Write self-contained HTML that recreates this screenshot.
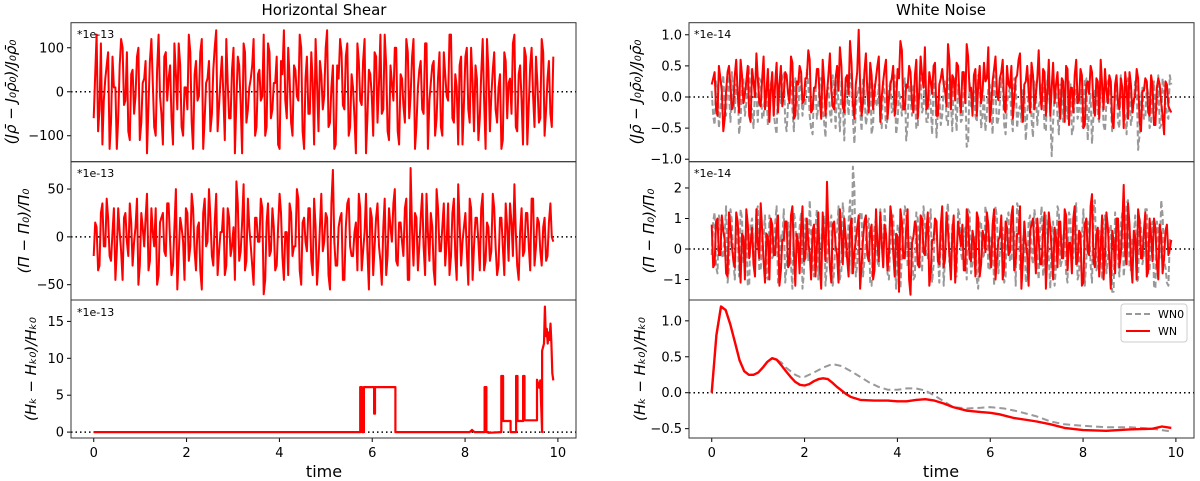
<!DOCTYPE html>
<html><head><meta charset="utf-8"><style>
html,body{margin:0;padding:0;background:#fff;}
svg{display:block;font-family:"DejaVu Sans","Liberation Sans",sans-serif;}
</style></head><body>
<svg id="fig" width="1200" height="481" viewBox="0 0 1200 481"></svg>
<script>
// ---------- data ----------
const tMax = 9.9;
const leftTopVals = [-60,130,-40,-120,30,90,-70,10,-130,60,100,-20,-90,40,-50,80,-110,20,70,-30,
120,-80,50,-10,-120,90,30,-60,110,-40,60,-100,10,130,-70,40,-20,90,-130,20,
70,-50,100,-90,30,-10,120,-60,50,-140,80,-30,110,-70,10,60,-100,40,-20,130,
-80,90,-40,20,-120,70,140,-60,30,-100,50,-20,100,-130,80,-50,20,120,-90,40,
-10,140,-70,60,-120,30,90,-40,110,-80,10,-140,70,-30,120,-60,40,-100,80,20,
-50,130,-90,60,-20,100,-120,30,-70,90,-10,120,-80,50,-40,110,-130,20,70,-60,
90,-100,40,-20,130,-70,10,60,-120,80,-40,100,-90,30,-60,120,-130,50,-10,90,
-70,40,-110,70,20,-50,130,-90,60,-120,80,-30,100,-80,20,-60,90,-40,70,-80];
const leftTopVals2 = [40,-90,110,-20,60,-130,80,10,-60,120,-30,90,-110,50,-10,100,-70,30,-140,70,
20,-100,130,-50,80,-20,60,-120,40,110,-80,10,-40,90,-130,70,-10,120,-60,30,
-90,50,140,-30,80,-110,20,-60,100,-20,60,-140,90,-40,30,120,-80,50,-10,-100,
110,-60,20,80,-130,40,-20,100,-70,60,-10,130,-90,30,-50,90,-120,20,70,-40,
100,-80,10,-130,60,120,-30,80,-100,40,-60,110,-20,70,-140,50,-10,90,-70,130,
-40,60,-110,20,100,-90,40,-30,120,-60,80,-130,10,70,-50,110,-20,60,-100,30,
-80,90,-10,130,-60,40,-120,80,-30,100,-70,20,60,-110,40,-20,120,-90,50,-40,
10,-130,90,-60,30,110,-80,40,-20,100,-120,60,-10,80,-70,120,-100,30,-50,80];
const leftMidVals = [-20,10,-30,35,-10,20,-25,30,-15,5,-45,25,-20,15,-5,40,-30,10,20,-35,
30,-10,-50,15,25,-20,35,-40,10,-55,20,-5,30,-25,45,-15,10,-35,25,-10,
50,-20,15,-40,5,30,-30,20,-10,-45,35,-15,55,-25,10,-30,20,-5,40,-60,
15,-20,30,-35,10,25,-45,5,35,-20,-10,40,-50,20,-15,30,-40,10,-25,45,
-5,20,-55,70,-30,10,25,-45,35,-10,-20,15,45,-35,5,-15,30,-40,20,-10,
-50,40,-20,10,35,-25,15,-5,30,-45,72,-30,20,-10,45,-40,5,25,-35,50,
-15,10,-30,35,-20,40,-45,15,-5,25,-50,30,-10,20,-35,45,-25,10,-15,30,
-40,20,-10,35,-25,15,55,-30,5,-20,25,-10,40,-30,20,-15,10,-25,15,0];
const leftMidVals2 = [15,-35,25,-10,40,-20,5,-45,30,-15,20,-5,35,-30,10,-50,25,-10,45,-25,
5,30,-40,20,-15,35,-5,-30,50,-20,10,-45,25,-10,30,-35,15,-55,40,-5,
20,-30,45,-15,5,-40,30,-20,10,58,-25,15,-35,40,-10,-50,20,-5,30,-45,
35,-15,10,-30,45,-20,5,-40,25,-10,50,-35,15,-5,30,-25,40,-50,10,-15,
25,-40,35,-5,-30,20,-45,10,40,-20,5,-35,30,-15,45,-55,20,-10,35,-25,
10,-40,30,-5,50,-30,15,-20,40,-45,5,25,-35,20,-10,45,-25,10,-50,30,
-15,35,-5,-40,25,-20,55,-30,10,-15,40,-45,20,-5,30,-35,15,-25,45,-10,
-30,20,-40,10,35,-20,5,-45,30,-15,25,-35,40,-10,15,-30,20,-20,35,-5];
const leftBotTimes = [0,5.74,5.74,5.78,5.78,5.82,5.82,6.04,6.04,6.06,6.06,6.5,6.5,8.1,8.15,8.2,8.42,8.42,8.46,8.46,8.5,8.5,8.78,8.78,8.82,8.82,8.98,8.98,9.1,9.1,9.13,9.13,9.25,9.25,9.28,9.28,9.55,9.55,9.6,9.62,9.66,9.66,9.7,9.72,9.74,9.76,9.78,9.8,9.82,9.84,9.86,9.88,9.9];
const leftBotVals =  [0,0,6.1,6.1,0,0,6.1,6.1,2.5,2.5,6.1,6.1,0,0,0.3,0,0,6.1,6.1,0,0,-0.1,0,7.6,7.6,1.5,1.5,0,0,7.6,7.6,1.5,1.5,7.6,7.6,1.6,1.6,7.1,6.0,7.0,0,11,12,17,13,14,12,13.5,12.5,14.7,12,8,7];
const rightTopRed = [.2,.4,-.3,.3,-.55,.1,.5,-.2,.35,.05,.6,-.1,.25,-.3,.45,0,.3,-.15,.65,.1,
-.4,.4,.2,-.25,.5,.05,.35,-.1,.55,-.3,.2,.4,-.05,.3,.6,-.2,.15,.45,-.35,.25,
.05,.7,-.15,.3,.1,.5,-.25,.35,.9,-.1,.2,1.08,-.3,.4,.1,.55,-.2,.3,.65,0,
.45,-.35,.2,.5,-.1,.3,.75,-.2,.15,.4,-.25,.6,.05,.35,.8,-.15,.25,.5,-.3,.2,
.45,.1,.85,-.2,.3,.55,0,.4,-.1,.65,.15,.35,-.3,.5,.1,.25,.8,-.15,.45,.05,
.3,.6,-.25,.2,.5,-.05,.35,.7,-.4,.25,.1,.55,-.2,.3,.05,.45,-.3,.6,.15,-.1,
.4,-.35,.25,.5,-.45,.15,.35,-.1,.45,-.5,.2,.05,.4,-.3,.25,.6,-.2,.1,.35,-.4,
.2,-.1,.3,-.5,.15,.4,-.25,.05,.3,-.55,.1,.25,-.3,.2,-.45,.3,-.1,-.6,.2,-.2];
const rightTopRed2 = [.3,-.2,.5,.1,-.35,.4,.15,-.1,.6,-.25,.35,.05,.5,-.4,.25,.7,-.1,.3,-.2,.45,
.1,-.3,.55,.2,-.15,.4,.05,.65,-.35,.25,.5,-.1,.3,.75,-.25,.15,.45,-.05,.6,-.3,
.35,.1,-.2,.5,.8,-.15,.3,.05,.55,-.35,.4,.2,-.1,.7,-.25,.35,.1,.5,-.4,.25,
.6,-.05,.3,-.3,.45,.9,-.2,.2,.5,-.1,.35,-.35,.65,.15,-.2,.4,.05,.55,-.3,.3,
.2,-.15,.6,.35,-.05,.5,-.25,.4,.85,.1,-.3,.45,.2,-.1,.55,.3,-.4,.25,.65,-.05,
.4,-.2,.5,.15,-.35,.3,.6,-.1,.2,.5,-.25,.35,.05,.75,-.2,.4,.1,-.3,.55,.2,
-.1,.3,-.4,.45,.15,-.25,.6,-.05,.35,-.45,.25,.5,-.15,.3,-.35,.2,.45,-.1,.25,-.5,
.35,-.2,.15,.4,-.35,.2,-.05,.45,-.4,.1,.3,-.25,.35,-.45,.15,.2,-.3,.25,-.15,-.25];
const rightTopGray = [.1,-.45,.2,-.2,.35,-.3,.05,.4,-.25,.15,-.35,.3,-.1,.5,-.2,.1,-.4,.25,-.3,.05,
-.15,.35,-.45,.2,-.1,.4,-.55,.1,-.2,.3,-.35,.15,-.05,.45,-.3,-.6,.2,-.15,.3,-.4,
.1,-.25,.35,-.5,-.1,.25,-.7,.05,.3,-.35,-.2,.15,-.55,.1,-.3,.4,-.45,-.1,.2,-.5,
.05,-.35,.25,-.2,-.6,.1,-.3,.3,-.45,-.05,.2,-.5,.1,-.25,.35,-.4,-.1,.15,-.65,.05,
-.3,.25,-.45,-.1,.3,-.55,0,-.35,.2,-.75,-.15,.1,-.4,.25,-.3,-.55,.15,-.2,.35,-.45,
-.1,.2,-.6,.05,-.3,.3,-.5,-.15,.15,-.7,.1,-.35,.25,-.45,-.05,.2,-.55,.1,-.95,.05,
-.3,.2,-.4,-.1,.25,-.6,0,-.35,.15,-.5,.3,-.2,-.75,.1,-.3,.2,-.45,-.1,.3,-.55,
.05,-.4,.35,-.2,-.6,.15,-.3,.25,-.85,0,-.35,.2,-.5,.1,-.25,.35,-.45,.1,-.3,.35];
const rightTopGray2 = [-.3,.25,-.5,.1,-.2,.35,-.4,-.05,.2,-.6,.15,-.3,.4,-.15,-.5,.05,.3,-.35,.1,-.45,
.2,-.25,-.6,.15,.3,-.4,-.1,.25,-.55,.05,.35,-.3,-.15,.2,-.5,.1,-.35,.3,-.2,-.65,
.15,-.4,.05,.25,-.55,-.1,.2,-.3,.4,-.75,.05,-.2,.3,-.45,.1,-.6,.2,-.15,-.35,.25,
-.5,.1,-.25,.35,-.4,-.1,.15,-.7,.2,-.3,.05,-.5,.3,-.15,-.4,.1,-.6,.25,-.2,-.45,
.15,-.35,.3,-.55,-.05,.2,-.4,.1,-.8,.25,-.15,-.3,.35,-.5,.05,-.25,.2,-.6,.1,-.35,
.3,-.45,-.1,.15,-.55,.25,-.2,-.4,.1,-.3,.35,-.65,.05,-.15,.2,-.5,.3,-.25,-.4,.1,
-.6,.2,-.1,-.35,.25,-.5,.15,-.2,-.45,.3,-.7,.05,-.3,.2,-.4,.1,-.55,.25,-.15,-.35,
.2,-.5,.1,-.3,.3,-.45,-.1,.2,-.6,.15,-.35,.05,-.4,.25,-.2,-.5,.3,-.1,-.35,.2];
const rightMidRed = [.8,-.5,1.0,-.2,.6,-.8,1.2,.1,-.6,.9,-1.1,.4,1.3,-.3,.7,-.9,.2,1.5,-.4,.5,
-1.0,.8,-.2,1.1,-.7,.3,.9,-.5,1.4,-1.2,.2,.7,-.4,1.0,-.1,.6,-.9,1.2,-1.3,.4,
2.2,-.6,.8,.1,-1.1,.5,1.0,-.3,.7,-.8,.3,1.1,-.5,.9,-.2,.6,-1.0,1.3,-.4,.2,
.8,-.7,1.4,-.1,.5,-1.4,.9,-.3,1.3,-1.5,.4,.7,-.6,1.0,-.2,1.2,-.8,.3,.9,-.5,
1.4,-.3,.6,-1.0,1.1,-.2,.5,.8,-.7,1.0,-.4,.3,1.2,-.9,.6,-.1,.8,-.6,1.3,-.3,
.4,-1.0,.9,-.2,1.1,-.7,.5,1.4,-.4,.2,-1.2,.8,.1,1.0,-.5,.6,-1.3,1.2,-.1,.7,
-.6,.9,-.3,1.1,.2,-.8,1.4,-.4,.5,-1.1,1.0,-.2,1.8,-.6,.7,.1,-1.0,1.2,-.3,.6,
-.8,1.0,-.2,2.1,-.5,.8,-1.1,.4,1.3,-.3,.6,-.9,1.0,-.4,.7,-1.0,.5,-.3,.8,0];
const rightMidRed2 = [-.6,.9,-.2,1.1,.3,-.9,.7,-.4,1.2,-.1,.5,-1.0,.8,.2,-.5,1.3,-.3,.6,-1.1,.4,
1.0,-.2,.7,-1.2,.3,.9,-.6,1.1,-.1,.5,-.8,1.4,-.3,.2,-1.0,.8,.1,-.6,1.2,-.4,
.6,-1.1,.9,-.2,1.3,-.5,.4,-.9,1.0,-.1,.7,-1.3,.3,1.1,-.4,.8,-.7,.2,1.2,-.6,
.5,-.2,1.0,-.9,.4,1.3,-.3,.7,-1.0,.2,.9,-.5,1.1,-.1,.6,-1.2,.3,1.0,-.4,.8,
-.6,1.2,-.2,.5,-1.1,.9,.1,-.7,1.3,-.3,.6,-.9,1.0,-.5,.4,1.2,-.2,.8,-1.0,.3,
1.1,-.6,.7,-.1,1.4,-.4,.5,-1.3,.9,-.2,.6,1.0,-.8,.3,-.5,1.2,-.1,.7,-1.0,.4,
.9,-.3,1.3,-.7,.2,1.0,-.5,.6,-1.2,.8,-.1,1.4,-.4,.5,-.9,1.1,-.2,.7,-1.3,.3,
1.0,-.6,.8,-.2,1.5,-.4,.6,-1.0,.9,-.3,1.2,-.7,.4,1.0,-.5,.8,-.8,.6,-.2,.3];
const rightMidGray = [-.2,1.2,-.8,.7,-.3,1.4,-.6,.9,-1.0,.3,1.3,-.5,.6,-1.2,1.0,-.2,1.4,-.7,.4,-.9,
1.1,-.3,.8,-1.1,.5,1.3,-.6,.2,-1.3,.9,-.1,1.2,-.8,.5,1.6,-.4,.7,-1.0,.3,1.1,
-.5,.8,-1.2,.4,1.4,-.7,.9,-.3,1.6,2.7,-.9,.6,1.2,-.4,.8,-1.1,.3,1.0,-.6,.5,
1.3,-.8,.2,1.1,-1.3,.7,-.2,1.4,-.6,.4,-1.0,1.2,.1,-.7,.9,-.3,1.3,-.5,.6,-1.1,
.8,-.2,1.5,-.6,.3,-.9,1.1,-.4,.7,1.3,-.8,.2,-1.0,.9,-.3,1.4,-.6,.5,-1.2,1.0,
-.1,.7,-.9,1.2,-.4,.6,1.5,-.7,.3,-1.1,.9,-.2,1.3,-.5,.8,-.9,1.1,-.3,.6,-1.2,
1.4,-.6,.4,-.8,1.2,-.2,.9,-1.0,.5,1.3,-.4,.7,-1.1,1.6,-.5,.3,1.0,-.8,.6,-1.4,
1.2,-.3,.8,-.9,1.5,-.6,.4,1.1,-1.0,.7,-.2,1.3,-.7,.9,-1.3,.5,1.6,-.4,-1.1,.3];
const rightMidGray2 = [.9,-.6,1.1,-.2,.5,-1.1,1.3,-.4,.7,-.9,1.0,.1,-1.2,.8,-.3,1.2,-.7,.4,1.1,-1.0,
.6,-.2,1.4,-.8,.3,-1.1,.9,-.5,1.2,-.1,.7,-1.3,1.0,-.4,.5,-.9,1.3,-.2,.8,-1.2,
.4,1.1,-.7,.6,-1.0,1.5,-.3,.9,-.8,2.0,-.5,1.2,-.9,.3,1.0,-1.2,.7,-.4,1.3,-.6,
.5,-1.0,1.1,-.2,.8,-1.3,.6,1.2,-.5,.3,-.9,1.0,-.6,1.4,-.3,.7,-1.1,.9,-.2,.5,
-1.2,1.1,-.4,.8,-.9,1.3,-.1,.6,-1.0,1.2,-.5,.4,-1.3,.9,-.2,1.1,-.7,.5,1.4,-.8,
.3,-1.1,1.0,-.4,.7,-1.2,1.3,-.3,.6,-.9,1.1,-.5,.8,-1.0,1.4,-.2,.5,-1.3,.9,-.6,
1.2,-.4,.7,-1.1,1.0,-.3,1.5,-.8,.4,-1.2,.9,-.5,1.3,-.7,.6,-1.0,1.1,-.2,.8,-1.4,
.5,-.9,1.2,-.3,1.6,-.7,.4,-1.1,1.0,-.5,1.3,-.8,.6,-1.2,.9,-.3,1.1,-.6,-1.2,.2];
const wnTimes = [0,0.1,0.2,0.3,0.4,0.5,0.6,0.7,0.8,0.9,1.0,1.1,1.2,1.3,1.4,1.5,1.6,1.7,1.8,1.9,2.0,2.1,2.2,2.3,2.4,2.5,2.6,2.7,2.8,2.9,3.0,3.2,3.5,3.8,4.0,4.2,4.4,4.6,4.8,5.0,5.2,5.5,5.8,6.0,6.2,6.5,6.8,7.0,7.3,7.6,8.0,8.5,9.0,9.5,9.7,9.9];
const wnVals  = [0,0.8,1.2,1.15,0.95,0.7,0.45,0.3,0.25,0.25,0.28,0.35,0.43,0.48,0.46,0.38,0.3,0.22,0.15,0.11,0.1,0.12,0.16,0.19,0.2,0.19,0.14,0.08,0.03,-0.02,-0.06,-0.1,-0.11,-0.11,-0.12,-0.12,-0.1,-0.09,-0.11,-0.15,-0.2,-0.25,-0.27,-0.28,-0.3,-0.35,-0.38,-0.4,-0.44,-0.49,-0.52,-0.53,-0.51,-0.5,-0.47,-0.49];
const wn0Times = [0,0.1,0.2,0.3,0.4,0.5,0.6,0.7,0.8,0.9,1.0,1.1,1.2,1.3,1.4,1.5,1.6,1.7,1.8,1.9,2.0,2.2,2.4,2.6,2.8,3.0,3.2,3.4,3.6,3.8,4.0,4.2,4.4,4.6,4.8,5.0,5.2,5.5,5.8,6.0,6.3,6.6,7.0,7.3,7.6,8.0,8.5,9.0,9.5,9.9];
const wn0Vals  = [0,0.8,1.2,1.15,0.95,0.7,0.45,0.3,0.25,0.25,0.28,0.35,0.43,0.48,0.46,0.42,0.35,0.3,0.25,0.22,0.22,0.28,0.35,0.4,0.37,0.3,0.22,0.14,0.08,0.04,0.04,0.06,0.06,0.03,-0.04,-0.12,-0.2,-0.22,-0.21,-0.2,-0.22,-0.26,-0.33,-0.4,-0.44,-0.46,-0.48,-0.48,-0.5,-0.54];
const xTicks = [0,2,4,6,8,10];
const ticksLT = [-100,0,100], ticksLM = [-50,0,50], ticksLB = [0,5,10,15];
const ticksRT = [-1.0,-0.5,0.0,0.5,1.0], ticksRM = [-1,0,1,2], ticksRB = [-0.5,0.0,0.5,1.0];

// ---------- drawing ----------
const NS = "http://www.w3.org/2000/svg";
const svg = document.getElementById('fig');
function el(tag, attrs, parent){ const e=document.createElementNS(NS,tag); for(const k in attrs) e.setAttribute(k,attrs[k]); (parent||svg).appendChild(e); return e; }
function idxTimes(n){ const a=[]; for(let i=0;i<n;i++) a.push(i*tMax/(n-1)); return a; }
function interleave(a,b){ const r=[]; for(let i=0;i<a.length;i++){ r.push(a[i]); if(i<b.length) r.push(b[i]); } return r; }

function makeX(x0,x1){ const lo=-0.49, hi=10.39; return t => x0 + (t-lo)/(hi-lo)*(x1-x0); }
function makeY(top,bot,vmax,vmin){ return v => top + (vmax-v)/(vmax-vmin)*(bot-top); }

function panel(name,x0,x1,top,bot,vmin,vmax,ticks,fmt,showX){
  const X=makeX(x0,x1), Y=makeY(top,bot,vmax,vmin);
  const g=el('g',{});  
  ticks.forEach(v=>{
    const y=Y(v);
    el('line',{x1:x0-4,x2:x0,y1:y,y2:y,stroke:'#000','stroke-width':1},g);
    const tx=el('text',{x:x0-7,y:y+4.5,'text-anchor':'end','font-size':13,fill:'#000'},g);
    tx.textContent=fmt(v).replace('-','\u2212');
     
  });
  xTicks.forEach(t=>{
    const x=X(t);
    el('line',{x1:x,x2:x,y1:bot,y2:bot+(showX?4:0),stroke:'#000','stroke-width':1},g);
    if(showX){ const tx=el('text',{x:x,y:bot+19,'text-anchor':'middle','font-size':13},g); tx.textContent=t;
        }
  });
  const zl=el('line',{x1:x0,x2:x1,y1:Y(0),y2:Y(0),stroke:'#000','stroke-width':1.5,'stroke-dasharray':'1.5,3'},g);
   
  return {X,Y,g,x0,x1,top,bot};
}
function series(p,ts,vs,color,dash,name,w){
  const pts=ts.map((t,i)=>p.X(t).toFixed(1)+','+p.Y(vs[i]).toFixed(1)).join(' ');
  const pl=el('polyline',{points:pts,fill:'none',stroke:color,'stroke-width':w||2,'stroke-linejoin':'round'},p.g);
  if(dash) pl.setAttribute('stroke-dasharray',dash);
   
}
function noise(p,a,b,color,dash,name,w){ const v=interleave(a,b); series(p,idxTimes(v.length),v,color,dash,name,w); }
function frame(p){
  const r=el('rect',{x:p.x0,y:p.top,width:p.x1-p.x0,height:p.bot-p.top,fill:'none',stroke:'#333','stroke-width':1},p.g);
   
}
function scaleLabel(x,y,txt){ const t=el('text',{x:x,y:y,'font-size':11}); t.textContent=txt;
    }
function ylab(x,y,txt){ const t=el('text',{x:x,y:y,'font-size':15,'text-anchor':'middle',transform:`rotate(-90 ${x} ${y})`,'font-style':'italic'}); t.textContent=txt;
    }
function txt(x,y,s,size,name){ const t=el('text',{x:x,y:y,'font-size':size,'text-anchor':'middle'}); t.textContent=s;
    }

const f0=v=>String(v), f1=v=>v.toFixed(1);
const LX0=71, LX1=576, RX0=689, RX1=1194;
const B=[22.7,161.7,300,438];

const lt=panel('panel-hs-density',LX0,LX1,B[0],B[1],-159,157,ticksLT,f0,false);
noise(lt,leftTopVals,leftTopVals2,'#ff0000',null,'hs-density-line',2); frame(lt);
const lm=panel('panel-hs-pressure',LX0,LX1,B[1],B[2],-66,78.6,ticksLM,f0,false);
noise(lm,leftMidVals,leftMidVals2,'#ff0000',null,'hs-pressure-line',2); frame(lm);
const lb=panel('panel-hs-helicity',LX0,LX1,B[2],B[3],-0.8,17.9,ticksLB,f0,true);
series(lb,leftBotTimes,leftBotVals,'#ff0000',null,'hs-helicity-line',2.2); frame(lb);

const rt=panel('panel-wn-density',RX0,RX1,B[0],B[1],-1.04,1.194,ticksRT,f1,false);
noise(rt,rightTopGray,rightTopGray2,'#999999','6,3','wn0-density-line',2);
noise(rt,rightTopRed,rightTopRed2,'#ff0000',null,'wn-density-line',2); frame(rt);
const rm=panel('panel-wn-pressure',RX0,RX1,B[1],B[2],-1.67,2.86,ticksRM,f0,false);
noise(rm,rightMidGray,rightMidGray2,'#999999','6,3','wn0-pressure-line',2);
noise(rm,rightMidRed,rightMidRed2,'#ff0000',null,'wn-pressure-line',2); frame(rm);
const rb=panel('panel-wn-helicity',RX0,RX1,B[2],B[3],-0.63,1.29,ticksRB,f1,true);
series(rb,wn0Times,wn0Vals,'#999999','7,4','wn0-helicity-line',2);
series(rb,wnTimes,wnVals,'#ff0000',null,'wn-helicity-line',2.4); frame(rb);

// legend
const lg=el('g',{});  
el('rect',{x:1121,y:304,width:66,height:38,rx:3,fill:'#fff',stroke:'#ccc','stroke-width':1},lg);
el('line',{x1:1126,x2:1150,y1:314,y2:314,stroke:'#999','stroke-width':2,'stroke-dasharray':'6,3'},lg);
el('line',{x1:1126,x2:1150,y1:331,y2:331,stroke:'#ff0000','stroke-width':2},lg);
const l1=el('text',{x:1158,y:318,'font-size':11},lg); l1.textContent='WN0';
 
const l2=el('text',{x:1158,y:335,'font-size':11},lg); l2.textContent='WN';
 

scaleLabel(77,38,'*1e-13'); scaleLabel(77,177,'*1e-13'); scaleLabel(77,316,'*1e-13');
scaleLabel(694,38,'*1e-14'); scaleLabel(694,177,'*1e-14');

ylab(16,92,'(Jρ̄ − J₀ρ̄₀)/J₀ρ̄₀'); ylab(29,231,'(Π − Π₀)/Π₀'); ylab(36,369,'(Hₖ − Hₖ₀)/Hₖ₀');
ylab(641,92,'(Jρ̄ − J₀ρ̄₀)/J₀ρ̄₀'); ylab(654,231,'(Π − Π₀)/Π₀'); ylab(645,369,'(Hₖ − Hₖ₀)/Hₖ₀');

txt(324,15,'Horizontal Shear',15,'left-title'); txt(941,15,'White Noise',15,'right-title');
txt(324,477,'time',16,'left-x-axis-title'); txt(941,477,'time',16,'right-x-axis-title');
</script>
</body></html>
